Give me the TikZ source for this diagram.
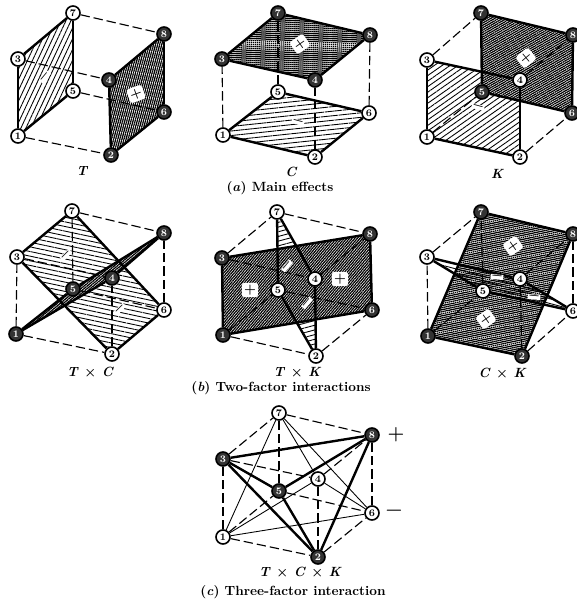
\documentclass[tikz,border=0pt]{standalone}
\usetikzlibrary{patterns.meta,backgrounds}
\begin{document}
\begin{tikzpicture}[
  x=0.75pt, y=-0.75pt,
  wvert/.style={circle, draw, fill=white, line width=1.2pt, minimum size=10.5pt,
                inner sep=0pt, font=\fontsize{7.5}{7.5}\selectfont\bfseries},
  dvert/.style={wvert, fill=black!80, text=white},
  dline/.style={dashed, dash pattern=on 7pt off 3pt, line width=0.85pt},
  sline/.style={line width=1.8pt},
  tline/.style={line width=0.65pt},
  lface/.style={pattern={Lines[angle=#1,distance=3.4pt,line width=0.65pt]}},
  dface/.style={preaction={fill=white},
                pattern={Lines[angle=#1,distance=1.5pt,line width=0.95pt]}},
  psgn/.style={fill=white, rounded corners=2pt, inner sep=1.6pt, font=\normalsize\bfseries},
  msgn/.style={fill=white, inner sep=0.6pt, font=\small\bfseries},
  lab/.style={font=\normalsize\bfseries\itshape},
  captext/.style={font=\normalsize\bfseries}
]
\useasboundingbox (0,0) rectangle (577,602);

% vertices, main effects
\foreach \n/\x/\y/\st in {1/18/136/wvert, 2/111/155/dvert, 3/18/59/wvert, 4/109/80/dvert,
                          5/73/91/wvert, 6/164/112/dvert, 7/73/13/wvert, 8/164/34/dvert}
  \node[\st] (T\n) at (\x,\y) {\n};
\foreach \n/\x/\y/\st in {1/223/135/wvert, 2/315/157/wvert, 3/222/59/dvert, 4/315/80/dvert,
                          5/278/92/wvert, 6/369/113/wvert, 7/278/13/dvert, 8/370/35/dvert}
  \node[\st] (C\n) at (\x,\y) {\n};
\foreach \n/\x/\y/\st in {1/427/137/wvert, 2/520/157/wvert, 3/427/60/wvert, 4/520/80/wvert,
                          5/482/92/dvert, 6/572/113/dvert, 7/481/13/dvert, 8/573/35/dvert}
  \node[\st] (K\n) at (\x,\y) {\n};

% vertices, two-factor
\foreach \n/\x/\y/\st in {1/16/334/dvert, 2/112/354/wvert, 3/17/257/wvert, 4/112/278/dvert,
                          5/73/289/dvert, 6/164/310/wvert, 7/72/211/wvert, 8/164/233/dvert}
  \node[\st] (TC\n) at (\x,\y) {\n};
\foreach \n/\x/\y/\st in {1/223/335/dvert, 2/316/356/wvert, 3/222/258/dvert, 4/315/279/wvert,
                          5/278/290/wvert, 6/372/310/dvert, 7/277/212/wvert, 8/370/234/dvert}
  \node[\st] (TK\n) at (\x,\y) {\n};
\foreach \n/\x/\y/\st in {1/428/336/dvert, 2/522/356/dvert, 3/427/257/wvert, 4/520/279/wvert,
                          5/483/291/wvert, 6/573/311/wvert, 7/481/212/dvert, 8/573/234/dvert}
  \node[\st] (CK\n) at (\x,\y) {\n};

% vertices, three-factor
\foreach \n/\x/\y/\st in {1/223/537/wvert, 2/318/557/dvert, 3/223/459/dvert, 4/318/479/wvert,
                          5/279/491/dvert, 6/372/513/wvert, 7/279/413/wvert, 8/372/435/dvert}
  \node[\st] (TCK\n) at (\x,\y) {\n};

% faces
\begin{scope}[on background layer]
  \fill[lface=65] (T1.center) -- (T3.center) -- (T7.center) -- (T5.center) -- cycle;
  \fill[dface=75] (T2.center) -- (T4.center) -- (T8.center) -- (T6.center) -- cycle;
  \fill[lface=6]  (C1.center) -- (C2.center) -- (C6.center) -- (C5.center) -- cycle;
  \fill[dface=-3] (C3.center) -- (C4.center) -- (C8.center) -- (C7.center) -- cycle;
  \fill[lface=35] (K1.center) -- (K2.center) -- (K4.center) -- (K3.center) -- cycle;
  \fill[dface=30] (K5.center) -- (K6.center) -- (K8.center) -- (K7.center) -- cycle;

  \fill[lface=-12] (TC3.center) -- (TC7.center) -- (TC6.center) -- (TC2.center) -- cycle;
  \fill[dface=40]  (TC1.center) -- (TC5.center) -- (TC8.center) -- (TC4.center) -- cycle;
  \fill[lface=15]  (TK7.center) -- (TK4.center) -- (TK2.center) -- (TK5.center) -- cycle;
  \fill[dface=50]  (TK1.center) -- (TK3.center) -- (TK8.center) -- (TK6.center) -- cycle;
  \fill[dface=12]  (CK1.center) -- (CK7.center) -- (CK8.center) -- (CK2.center) -- cycle;
  \fill[lface=-15] (CK3.center) -- (CK4.center) -- (CK6.center) -- (CK5.center) -- cycle;
\end{scope}

% cube edges
\foreach \a/\b in {T7/T8, T3/T4, T5/T6, T1/T2, C1/C3, C2/C4, C5/C7, C6/C8,
                   K3/K7, K1/K5, K2/K6, K4/K8,
                   TC1/TC2, TC3/TC4, TC5/TC6, TC7/TC8, TC1/TC3, TC2/TC4, TC5/TC7, TC6/TC8,
                   TK3/TK7, TK7/TK8, TK3/TK4, TK4/TK8, TK1/TK2, TK2/TK6, TK5/TK6, TK1/TK5,
                   CK3/CK7, CK1/CK3, CK2/CK6, CK6/CK8, CK5/CK7, CK2/CK4, CK1/CK5, CK4/CK8,
                   TCK1/TCK2, TCK3/TCK4, TCK5/TCK6, TCK7/TCK8, TCK1/TCK3, TCK2/TCK4,
                   TCK5/TCK7, TCK6/TCK8, TCK1/TCK5, TCK2/TCK6, TCK3/TCK7, TCK4/TCK8}
  \draw[dline] (\a) -- (\b);

% plane outlines
\foreach \a/\b in {T1/T3, T3/T7, T7/T5, T5/T1, T2/T4, T4/T8, T8/T6, T6/T2,
                   C1/C2, C2/C6, C6/C5, C5/C1, C3/C4, C4/C8, C8/C7, C7/C3,
                   K1/K2, K2/K4, K4/K3, K3/K1, K5/K6, K6/K8, K8/K7, K7/K5,
                   TC3/TC7, TC7/TC6, TC6/TC2, TC2/TC3, TC1/TC5, TC5/TC8, TC8/TC4, TC4/TC1,
                   TK1/TK3, TK3/TK8, TK8/TK6, TK6/TK1, TK7/TK4, TK4/TK2, TK2/TK5, TK5/TK7,
                   CK1/CK7, CK7/CK8, CK8/CK2, CK2/CK1, CK3/CK4, CK4/CK6, CK6/CK5, CK5/CK3,
                   TCK3/TCK8, TCK3/TCK5, TCK3/TCK2, TCK5/TCK2, TCK5/TCK8, TCK8/TCK2}
  \draw[sline] (\a) -- (\b);

% thin tetrahedron
\foreach \a/\b in {TCK7/TCK1, TCK7/TCK4, TCK7/TCK6, TCK1/TCK4, TCK1/TCK6, TCK4/TCK6}
  \draw[tline] (\a) -- (\b);

% signs
\node[msgn, rotate=50]  (Tm)  at (45,77)   {−};
\node[psgn, rotate=20]  (Tp)  at (136,94)  {+};
\node[psgn, rotate=35]  (Cp)  at (300,44)  {+};
\node[msgn, rotate=-15] (Cm)  at (298,122) {−};
\node[psgn, rotate=40]  (Kp)  at (526,58)  {+};
\node[msgn, rotate=-15] (Km)  at (478,107) {−};

\node[msgn, rotate=45]  (TCma) at (66,255)  {−};
\node[msgn, rotate=45]  (TCmb) at (120,309) {−};
\node[psgn]             (TKpa) at (250,290) {+};
\node[psgn]             (TKpb) at (340,279) {+};
\node[msgn, rotate=50]  (TKma) at (287,266) {−};
\node[msgn, rotate=50]  (TKmb) at (307,303) {−};
\node[psgn, rotate=35]  (CKpa) at (513,246) {+};
\node[psgn, rotate=35]  (CKpb) at (486,319) {+};
\node[msgn, rotate=-5]  (CKma) at (497,277) {−};
\node[msgn, rotate=-5]  (CKmb) at (534,297) {−};

\node[font=\Large\bfseries] (hi) at (396,435) {+};
\node[font=\Large\bfseries] (lo) at (394,513) {−};

% labels
\node[lab] (Tl)   at (82,171)  {T};
\node[lab] (Cl)   at (291,172) {C};
\node[lab] (Kl)   at (497,174) {K};
\node[captext] (capa) at (280,188) {(\textit{a}) Main effects};
\node[lab] (TCl)  at (90,372)  {T \textup{×} C};
\node[lab] (TKl)  at (297,372) {T \textup{×} K};
\node[lab] (CKl)  at (502,373) {C \textup{×} K};
\node[captext] (capb) at (281,388) {(\textit{b}) Two-factor interactions};
\node[lab] (TCKl) at (300,572) {T \textup{×} C \textup{×} K};
\node[captext] (capc) at (293,592) {(\textit{c}) Three-factor interaction};

\end{tikzpicture}
\end{document}
